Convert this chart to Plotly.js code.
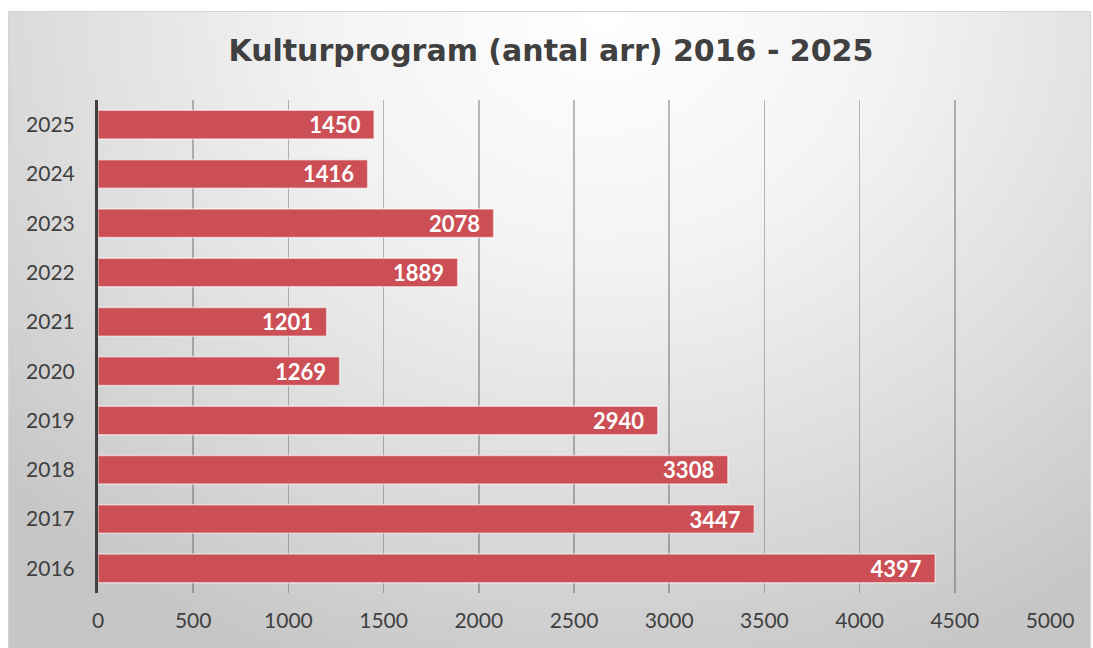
<!DOCTYPE html>
<html>
<head>
<meta charset="utf-8">
<script src="https://cdn.plot.ly/plotly-3.0.1.min.js"></script>
<style>
  html, body { margin: 0; padding: 0; background: #ffffff; }
  #wrap { position: relative; width: 1093px; height: 648px; overflow: hidden; }
  #bg { position: absolute; left: 8px; top: 11px; width: 1081px; height: 640px;
        border: 1px solid #d4d4d4;
        background: radial-gradient(ellipse 75% 110% at 55% 0%, #ffffff 0%, #f3f3f3 35%, #dcdcdc 70%, #c6c6c6 100%); }
  #chart { position: absolute; left: 0; top: 0; width: 1093px; height: 648px; }
</style>
</head>
<body>
<div id="wrap">
  <div id="bg"></div>
  <div id="chart"></div>
</div>
<script>
const years = ["2016", "2017", "2018", "2019", "2020", "2021", "2022", "2023", "2024", "2025"];
const values = [4397, 3447, 3308, 2940, 1269, 1201, 1889, 2078, 1416, 1450];
const tickVals = [0, 500, 1000, 1500, 2000, 2500, 3000, 3500, 4000, 4500, 5000];

const trace = {
  type: 'bar',
  orientation: 'h',
  y: years,
  x: values,
  text: values.map(v => String(v) + '&nbsp;&nbsp;'),
  textposition: 'inside',
  insidetextanchor: 'end',
  constraintext: 'none',
  textangle: 0,
  textfont: { family: 'Lato, sans-serif', size: 22, color: '#ffffff', weight: 'bold' },
  marker: { color: '#cb4f54', line: { color: 'rgba(255,255,255,0.55)', width: 1.5 } },
  hoverinfo: 'none'
};

const layout = {
  width: 1093, height: 648,
  paper_bgcolor: 'rgba(0,0,0,0)',
  plot_bgcolor: 'rgba(0,0,0,0)',
  margin: { l: 98, r: 43, t: 100, b: 55 },
  bargap: 0.42,
  showlegend: false,
  title: {
    text: '<b>Kulturprogram (antal arr) 2016 - 2025</b>',
    font: { family: 'DejaVu Sans, sans-serif', size: 30, color: '#404040' },
    x: 0.504, xanchor: 'center', xref: 'container',
    y: 1 - 50 / 648, yanchor: 'middle', yref: 'container'
  },
  xaxis: {
    range: [0, 5000],
    tickvals: tickVals,
    ticktext: tickVals.map(String),
    showgrid: true,
    gridcolor: 'rgba(60,60,60,0.35)',
    gridwidth: 1.5,
    zeroline: false,
    showline: false,
    ticks: '',
    tickfont: { family: 'Lato, sans-serif', size: 21, color: '#404040' },
    ticklabelstandoff: 13,
    fixedrange: true
  },
  yaxis: {
    type: 'category',
    categoryorder: 'array',
    categoryarray: years,
    showgrid: false,
    zeroline: false,
    showline: true,
    linecolor: '#404040',
    linewidth: 3,
    ticks: '',
    tickfont: { family: 'Lato, sans-serif', size: 21, color: '#404040' },
    ticklabelstandoff: 16,
    fixedrange: true
  }
};

Plotly.newPlot('chart', [trace], layout, { displayModeBar: false, staticPlot: true });
</script>
</body>
</html>
